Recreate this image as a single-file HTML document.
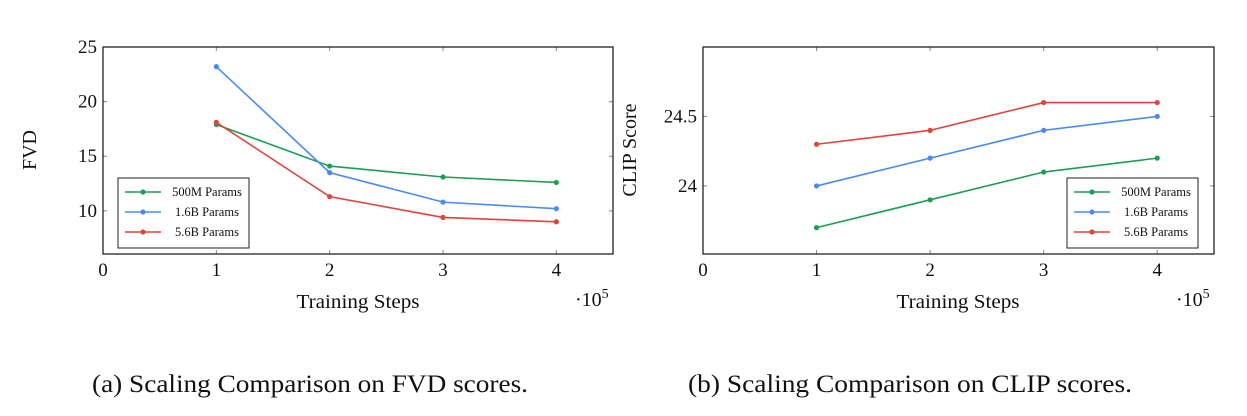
<!DOCTYPE html>
<html><head><meta charset="utf-8"><style>
html,body{margin:0;padding:0;background:#fff;}
svg{display:block;font-family:"Liberation Serif",serif;}
</style></head><body>
<svg id="s" width="1247" height="416" viewBox="0 0 1247 416" xmlns="http://www.w3.org/2000/svg"></svg>
<script>
const steps = [1, 2, 3, 4];
const seriesNames = ["500M Params", "1.6B Params", "5.6B Params"];
const fvd500M = [17.9, 14.1, 13.1, 12.6];
const fvd16B = [23.2, 13.5, 10.8, 10.2];
const fvd56B = [18.1, 11.3, 9.4, 9.0];
const clip500M = [23.7, 23.9, 24.1, 24.2];
const clip16B = [24.0, 24.2, 24.4, 24.5];
const clip56B = [24.3, 24.4, 24.6, 24.6];
const xTicks = [0, 1, 2, 3, 4];
const fvdTicks = [10, 15, 20, 25];
const fvdTickLabels = ["10", "15", "20", "25"];
const clipTicks = [24, 24.5];
const clipTickLabels = ["24", "24.5"];

const colors = ["#1e9e55", "#4a8af4", "#e0443c"];
const NS = "http://www.w3.org/2000/svg";
const svg = document.getElementById('s');
function el(tag, attrs, parent, text) {
  const e = document.createElementNS(NS, tag);
  for (const k in attrs) e.setAttribute(k, attrs[k]);
  if (text !== undefined) e.textContent = text;
  (parent || svg).appendChild(e);
  return e;
}
function chart(cfg) {
  const g = el('g', {});
  
  
  const {x0, x1, y0, y1, xmin, xmax, ymin, ymax} = cfg;
  const sx = v => x0 + (v - xmin) / (xmax - xmin) * (x1 - x0);
  const sy = v => y1 - (v - ymin) / (ymax - ymin) * (y1 - y0);
  xTicks.forEach(t => {
    const x = sx(t);
    if (t > xmin) {
      el('line', {x1: x, x2: x, y1: y1, y2: y1 - 4, stroke: '#888', 'stroke-width': 1}, g);
      el('line', {x1: x, x2: x, y1: y0, y2: y0 + 4, stroke: '#888', 'stroke-width': 1}, g);
    }
    const tl = el('text', {x: x, y: y1 + 22, 'font-size': 19, 'text-anchor': 'middle', fill: '#111'}, g, String(t));
    
    
  });
  cfg.yTicks.forEach((t, i) => {
    const y = sy(t);
    el('line', {x1: x0, x2: x0 + 4, y1: y, y2: y, stroke: '#888'}, g);
    el('line', {x1: x1, x2: x1 - 4, y1: y, y2: y, stroke: '#888'}, g);
    const tl = el('text', {x: x0 - 6, y: y + 6, 'font-size': 19, 'text-anchor': 'end', fill: '#111'}, g, cfg.yLabels[i]);
    
    
  });
  const frame = el('rect', {x: x0, y: y0, width: x1 - x0, height: y1 - y0, fill: 'none', stroke: '#222', 'stroke-width': 1.3}, g);
  
  
  cfg.series.forEach((vals, si) => {
    const pts = steps.map((s, i) => sx(s) + ',' + sy(vals[i])).join(' ');
    const pl = el('polyline', {points: pts, fill: 'none', stroke: colors[si], 'stroke-width': 1.6}, g);
    
    
    steps.forEach((s, i) => {
      const c = el('circle', {cx: sx(s), cy: sy(vals[i]), r: 2.6, fill: colors[si]}, g);
      
      
    });
  });
  const L = cfg.legend;
  const lg = el('g', {}, g);
  
  
  el('rect', {x: L.x, y: L.y, width: 131, height: 70, fill: '#fff', stroke: '#222', 'stroke-width': 1}, lg);
  seriesNames.forEach((n, i) => {
    const yy = L.y + 14 + i * 20;
    el('line', {x1: L.x + 7, x2: L.x + 43, y1: yy, y2: yy, stroke: colors[i], 'stroke-width': 1.6}, lg);
    el('circle', {cx: L.x + 25, cy: yy, r: 2.6, fill: colors[i]}, lg);
    const t = el('text', {x: L.x + 89, y: yy + 4, 'font-size': 12.5, 'text-anchor': 'middle', fill: '#111'}, lg, n);
    
    
  });
  const xt = el('text', {x: cfg.xtx, y: 308, 'font-size': 20, 'text-anchor': 'middle', fill: '#111', textLength: 123, lengthAdjust: 'spacingAndGlyphs'}, g, 'Training Steps');
  
  
  const ex = el('text', {x: x1 - 38, y: 306, 'font-size': 20, fill: '#111'}, g, '·10');
  
  
  el('tspan', {dy: -8, 'font-size': 14}, ex, '5');
  const yt = el('text', {x: cfg.ytx, y: 150, 'font-size': 20, 'text-anchor': 'middle', fill: '#111', transform: 'rotate(-90 ' + cfg.ytx + ' 150)'}, g, cfg.ytitle);
  
  
  const cap = el('text', {x: cfg.capx, y: 392, 'font-size': 25, 'text-anchor': 'middle', fill: '#111', textLength: cfg.capw, lengthAdjust: 'spacingAndGlyphs'}, g, cfg.caption);
  
  
}
chart({name: 'fvd-chart', x0: 103, x1: 613, y0: 47, y1: 254, xmin: 0, xmax: 4.5, ymin: 6.05, ymax: 25,
  yTicks: fvdTicks, yLabels: fvdTickLabels, series: [fvd500M, fvd16B, fvd56B],
  legend: {x: 118, y: 178}, ytitle: 'FVD', ytx: 36, xtx: 358,
  caption: '(a) Scaling Comparison on FVD scores.', capx: 310, capw: 436});
chart({name: 'clip-chart', x0: 703, x1: 1214, y0: 47, y1: 254, xmin: 0, xmax: 4.5, ymin: 23.51, ymax: 25.0,
  yTicks: clipTicks, yLabels: clipTickLabels, series: [clip500M, clip16B, clip56B],
  legend: {x: 1067, y: 178}, ytitle: 'CLIP Score', ytx: 636, xtx: 958,
  caption: '(b) Scaling Comparison on CLIP scores.', capx: 910, capw: 444});
</script>
</body></html>
